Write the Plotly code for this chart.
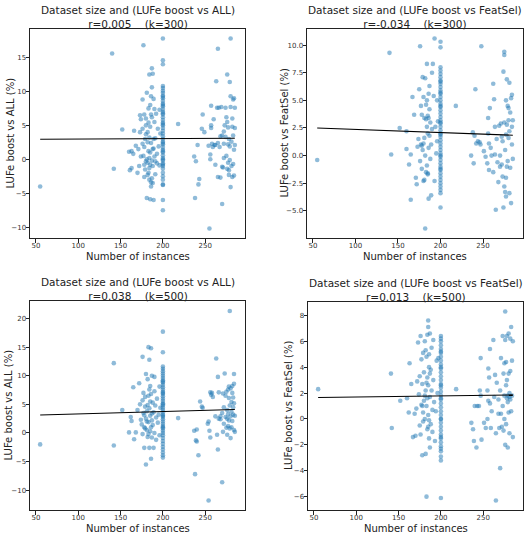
import numpy as np
import plotly.graph_objects as go

# ---------------- data ----------------
col200_p1 = [17.8,14.6,14.0,10.8,10.5,10.1,9.8,9.4,9.0,8.6,8.2,7.8,7.4,7.0,6.6,6.2,5.8,5.4,5.0,4.6,4.2,3.8,3.4,3.0,
             2.6,2.2,1.8,1.4,1.0,0.6,0.2,-0.2,-0.6,-1.0,-1.4,-2.0,-2.5,-3.0,-3.7,-6.0,-7.5,9.2,8.0,6.8,5.2,2.4,1.2,0.0,-0.8,-3.8]
p1_pts = [(55,-4.0),(140,15.6),(142,-1.4),(152,4.4),(160,1.1),(161,-1.6),(163,-1.3),(163,1.2),(165,0.8),(166,4.2),(168,2.0),
          (170,-2.0),(171,1.5),(173,4.0),(173,6.5),(174,5.9),(176,8.8),(177,16.8),(176,4.5),(177,0.5),(178,-2.6),(178,1.8),
          (179,-1.5),(180,3.7),(180,5.0),(181,9.8),(181,-5.7),(182,-0.5),(182,2.5),(183,7.5),(183,-2.0),(184,12.5),(184,0.2),
          (184,3.2),(185,1.0),(185,-0.8),(185,4.8),(186,9.3),(186,-4.0),(186,2.4),(187,13.4),(187,6.2),(187,-0.2),(188,12.6),
          (188,1.5),(188,-3.5),(189,-6.0),(189,3.0),(189,8.9),(190,5.5),(190,0.4),(191,-2.2),(191,3.1),(192,6.7),(193,0.8),
          (193,-0.6),(194,4.5),(195,1.9),(196,7.3),(196,-0.9),(197,3.8),(178,6.6),(180,6.0),(182,4.0),(183,1.2),(184,-1.3),
          (185,8.0),(186,6.6),(187,-2.8),(188,-1.0),(189,1.6),(190,7.4),(191,-0.3),(187,10.6),(180,-0.3),(179,3.0),(181,0.0),
          (183,5.4),(176,2.3),(174,0.4),(172,-1.0),(178,-0.8),(182,-2.3),(184,-3.0),(185,-5.9),(186,-3.4),(218,5.2),
          (237,0.4),(239,-0.3),(241,2.1),(243,-2.9),(242,-3.7),(238,-5.7),(246,4.5),(247,6.6),(249,4.0),(255,-10.2),(254,2.0),
          (256,0.7),(256,0.0),(257,4.6),(257,5.0),(257,7.9),(258,2.3),(260,5.9),(261,2.1),(263,11.5),(264,7.6),(265,16.3),
          (265,-2.6),(265,2.4),(266,7.6),(267,1.8),(268,3.4),(270,3.5),(270,-6.6),(271,-1.2),(272,0.2),(272,2.3),(273,5.0),
          (274,3.3),(274,7.6),(275,6.2),(275,0.5),(276,5.5),(276,12.5),(277,-0.5),(277,2.2),(277,4.7),(278,-1.6),(278,-2.3),
          (278,3.0),(279,11.4),(279,-0.1),(280,17.8),(280,9.3),(280,7.7),(280,-4.1),(281,2.6),(281,-1.0),(282,-2.6),(282,4.8),
          (282,6.0),(283,8.8),(283,3.5),(283,-0.7),(284,9.0),(284,1.4),(284,-2.4),(285,4.6),(285,2.1),(285,7.6),(270,-1.1),
          (268,-2.7),(262,2.1),(259,1.8),(262,-0.8),(272,4.1),(276,-1.4),(279,1.9),(269,7.7)]

col200_p2 = [10.3,9.8,8.0,7.7,7.4,7.1,6.8,6.5,6.2,5.9,5.6,5.3,5.0,4.7,4.4,4.1,3.8,3.5,3.2,2.9,2.6,2.3,2.0,1.7,1.4,1.1,
             0.8,0.5,0.2,-0.1,-0.4,-0.7,-1.0,-1.3,-1.6,-1.9,-2.2,-2.5,-2.8,-3.1,-3.4,-4.7,6.7,5.7,4.5,3.0,1.9,0.0,-1.2]
p2_pts = [(55,-0.4),(140,9.3),(142,0.1),(152,2.5),(160,0.6),(160,2.2),(163,-0.8),(165,0.1),(165,-4.0),(167,5.3),(169,3.7),
          (171,-2.0),(172,-2.6),(173,0.8),(174,1.5),(175,6.0),(176,9.9),(176,-0.5),(177,4.5),(177,1.0),(178,3.7),(178,-1.2),
          (179,7.1),(179,0.5),(180,5.3),(180,-2.3),(181,3.4),(181,1.6),(182,7.0),(182,-6.6),(182,0.0),(183,3.3),(183,-1.5),
          (184,8.3),(184,5.0),(184,-0.9),(185,3.6),(185,2.0),(185,-1.6),(186,5.6),(186,-3.9),(186,0.7),(187,4.2),(187,6.3),
          (188,-0.3),(188,3.0),(189,1.0),(189,-3.6),(190,7.5),(190,2.4),(191,8.3),(192,5.4),(193,10.6),(193,-2.3),(194,2.6),
          (195,0.2),(196,5.0),(196,1.3),(197,3.1),(180,1.1),(183,4.6),(185,-1.7),(187,1.8),(181,-2.2),(184,2.6),(178,0.9),
          (186,3.4),(218,4.5),
          (236,0.0),(238,2.1),(239,-0.7),(240,1.8),(241,6.0),(242,1.1),(244,1.3),(246,1.2),(247,1.0),(248,9.9),(251,0.4),
          (253,-0.1),(255,-0.7),(256,2.0),(256,3.4),(257,1.1),(257,-1.3),(258,4.3),(259,0.7),(260,0.0),(262,6.5),(262,-1.5),
          (263,5.1),(264,2.6),(264,0.1),(265,-4.9),(266,1.5),(267,-0.6),(268,-2.4),(269,2.7),(270,0.0),(270,-1.0),(271,2.9),
          (272,-0.8),(272,1.7),(273,-1.9),(274,-4.7),(274,7.6),(275,9.4),(275,9.1),(275,3.0),(275,-2.8),(276,0.5),(276,-3.3),
          (277,5.0),(277,1.9),(277,-3.7),(278,6.9),(278,2.8),(278,-1.0),(279,-0.5),(279,4.5),(280,4.3),(280,1.6),(281,6.6),
          (281,-3.4),(281,2.2),(282,3.9),(282,-1.1),(283,5.2),(283,-4.3),(284,5.5),(284,2.6),(284,1.0),(285,3.2),(285,-0.3),
          (280,3.2),(277,-2.0),(273,1.3)]

col200_p3 = [17.7,14.1,11.6,11.2,10.8,10.4,10.0,9.6,9.2,8.8,8.4,8.0,7.6,7.2,6.8,6.4,6.0,5.6,5.2,4.8,4.4,4.0,3.6,3.2,
             2.8,2.4,2.0,1.6,1.2,0.8,0.4,0.0,-0.4,-0.9,-1.4,-1.9,-2.4,-2.9,-3.4,-3.9,-4.3,9.0,7.0,5.0,3.0,1.0]
p3_pts = [(55,-2.0),(142,12.2),(142,-2.2),(152,4.0),(160,0.1),(162,2.8),(163,2.1),(165,8.0),(166,-1.1),(168,0.1),(170,4.0),
          (172,8.7),(173,5.0),(174,2.3),(175,1.5),(176,13.3),(176,5.7),(176,-0.2),(177,3.5),(177,7.0),(178,1.0),(178,-2.6),
          (179,4.6),(179,6.3),(180,-5.5),(180,10.3),(180,2.5),(181,0.5),(181,3.8),(182,9.4),(182,-0.7),(183,15.0),(183,6.5),
          (183,1.9),(184,12.8),(184,4.3),(184,-2.6),(185,8.2),(185,0.3),(185,3.0),(186,14.8),(186,-4.5),(186,6.8),(187,2.2),
          (187,10.0),(187,-0.8),(188,5.3),(188,1.4),(189,3.6),(189,-2.6),(190,9.8),(190,7.3),(190,0.0),(191,4.8),(192,2.7),
          (192,-1.2),(193,6.0),(194,1.8),(195,3.2),(196,8.1),(196,-0.4),(197,4.4),(181,2.0),(183,-0.2),(185,5.5),(187,3.4),
          (179,0.8),(184,7.6),(182,4.9),(178,3.1),(186,1.0),(218,2.6),
          (237,0.4),(239,-1.3),(240,-1.5),(240,0.6),(238,-7.2),(242,-3.9),(244,5.5),(246,4.6),(247,4.4),(253,1.6),
          (254,-11.8),(254,2.0),(255,0.4),(256,-0.8),(256,7.1),(257,6.7),(258,7.0),(259,6.3),(262,2.9),(263,13.0),(264,-0.3),
          (265,9.8),(265,-2.9),(266,7.1),(266,2.5),(268,2.9),(270,-8.6),(270,3.5),(271,0.2),(272,4.5),(272,1.6),(273,10.4),
          (274,6.5),(274,2.8),(275,7.2),(275,0.9),(276,4.0),(276,-0.3),(277,7.6),(277,1.2),(277,3.3),(278,8.1),(278,6.1),
          (278,2.2),(279,21.3),(279,4.8),(279,0.8),(280,7.8),(280,2.9),(280,-0.9),(281,5.4),(281,3.7),(281,1.0),(282,8.2),
          (282,7.0),(282,2.1),(283,6.2),(283,3.2),(284,10.3),(284,8.6),(284,5.2),(284,0.5),(285,3.0),(285,0.2),(283,4.5),
          (276,2.5),(271,6.9),(268,2.4)]

col200_p4 = [6.4,6.2,6.0,5.7,5.4,5.1,4.8,4.5,4.2,3.9,3.6,3.3,3.0,2.7,2.4,2.1,1.8,1.5,1.2,0.9,0.6,0.3,0.0,-0.3,-0.6,
             -0.9,-1.2,-1.5,-1.8,-2.1,-2.3,-2.5,-2.9,-3.2,-6.1,5.2,4.0,2.6,1.6,0.0,-1.4]
p4_pts = [(55,2.3),(141,3.5),(142,-0.7),(152,1.4),(160,1.6),(162,0.5),(163,4.3),(165,2.7),(167,-1.4),(169,0.4),(170,-1.3),
          (171,0.8),(172,2.9),(173,5.9),(174,1.9),(175,-0.5),(175,3.3),(176,6.4),(176,-1.2),(177,1.1),(177,4.6),(178,2.7),
          (178,-2.8),(179,5.1),(179,-0.2),(180,1.4),(180,3.6),(181,6.0),(181,0.0),(182,-2.7),(182,2.2),(185,7.6),(185,7.1),
          (183,-6.0),(183,4.8),(183,1.0),(184,6.5),(184,3.2),(184,-0.8),(185,2.6),(185,0.3),(186,4.0),(186,-1.5),(186,5.0),
          (187,6.6),(187,1.7),(187,-2.2),(188,3.8),(188,-0.4),(189,2.2),(189,5.5),(190,0.7),(190,-1.0),(191,6.1),(191,3.0),
          (192,1.3),(193,-1.7),(194,0.6),(195,4.5),(196,2.0),(197,4.7),(181,1.8),(183,2.8),(185,-0.6),(187,3.5),(179,0.5),
          (184,1.6),(182,5.3),(178,1.0),(186,-0.1),(218,2.3),
          (236,-0.3),(238,-0.8),(239,-1.7),(240,1.0),(242,-2.2),(243,1.0),(245,1.0),(246,2.2),(247,4.7),(247,1.8),(248,-1.6),
          (251,-0.3),(253,-0.7),(255,0.0),(255,2.2),(256,1.4),(256,3.9),(257,3.2),(258,5.4),(258,1.2),(259,-0.7),(260,0.6),
          (262,6.1),(263,1.7),(264,3.4),(265,-6.3),(265,-1.1),(266,2.8),(268,0.4),(268,1.5),(269,-0.7),(270,-3.8),(270,2.2),
          (271,4.7),(271,0.4),(272,-0.6),(273,6.4),(273,1.0),(274,3.5),(274,-0.9),(275,4.3),(275,1.8),(275,0.0),(276,8.3),
          (276,6.1),(276,-2.0),(277,4.4),(277,2.6),(277,-0.4),(278,6.4),(278,3.0),(278,1.6),(279,-2.2),(279,1.3),(280,6.6),
          (280,3.5),(280,0.5),(281,2.0),(281,-1.1),(282,6.2),(282,3.7),(282,1.5),(283,7.1),(283,0.6),(284,4.5),(284,1.8),
          (285,-1.4),(285,6.0),(279,1.8),(281,1.7)]

r_values = [0.005, -0.034, 0.038, 0.013]
k_values = [300, 300, 500, 500]
comparisons = ["ALL", "FeatSel", "ALL", "FeatSel"]
xlabel = "Number of instances"
x_ticks = [50, 100, 150, 200, 250]
y_ticks = [[-10, -5, 0, 5, 10, 15], [-5, -2.5, 0, 2.5, 5, 7.5, 10], [-10, -5, 0, 5, 10, 15, 20], [-6, -4, -2, 0, 2, 4, 6, 8]]
y_ranges = [[-11.6, 19.2], [-7.46, 11.46], [-13.46, 23.06], [-7.03, 9.03]]
x_range = [43, 297]

panels = [(p1_pts, col200_p1), (p2_pts, col200_p2), (p3_pts, col200_p3), (p4_pts, col200_p4)]

# ---------------- layout geometry ----------------
W, H = 528, 534
boxes = [(30, 245, 29, 238), (307, 523, 29, 238), (30, 245, 301, 510), (308, 523, 302, 510)]
ytitle_x = [10, 284, 8, 288]
FONT = "DejaVu Sans"
BLUE = "#1f77b4"
SP = "\u00a0" * 4

fig = go.Figure()
layout = dict(width=W, height=H, margin=dict(l=0, r=0, t=0, b=0), paper_bgcolor="white",
              plot_bgcolor="white", showlegend=False, font=dict(family=FONT, color="#262626"))
annotations = []
for i, ((pts, col), (x0, x1, y0, y1)) in enumerate(zip(panels, boxes)):
    n = i + 1
    xs = np.array([p[0] for p in pts] + [200] * len(col), dtype=float)
    ys = np.array([p[1] for p in pts] + list(col), dtype=float)
    xa = "x" if n == 1 else f"x{n}"
    ya = "y" if n == 1 else f"y{n}"
    fig.add_trace(go.Scatter(x=xs, y=ys, mode="markers", xaxis=xa, yaxis=ya,
                             marker=dict(size=4.6, color=BLUE, opacity=0.5, line=dict(width=0))))
    # least-squares line with the correlation r reported in the title
    slope = r_values[i] * ys.std() / xs.std()
    lx = np.array([xs.min(), xs.max()])
    ly = ys.mean() + slope * (lx - xs.mean())
    fig.add_trace(go.Scatter(x=lx, y=ly, mode="lines", xaxis=xa, yaxis=ya,
                             line=dict(color="black", width=1.1)))
    axkey = "xaxis" if n == 1 else f"xaxis{n}"
    aykey = "yaxis" if n == 1 else f"yaxis{n}"
    common = dict(showgrid=False, zeroline=False, showline=True, mirror=True, linecolor="#222",
                  linewidth=1, ticks="outside", ticklen=3.5, tickwidth=0.8, tickcolor="#222",
                  tickfont=dict(size=7, family=FONT, color="#333"))
    layout[axkey] = dict(domain=[x0 / W, x1 / W], anchor=ya, range=x_range, tickvals=x_ticks,
                         ticklabelstandoff=-3, **common)
    fmt = ".1f" if n == 2 else ""
    layout[aykey] = dict(domain=[1 - y1 / H, 1 - y0 / H], anchor=xa, range=y_ranges[i],
                         tickvals=y_ticks[i], tickformat=fmt, ticklabelstandoff=-2, **common)
    cx = (x0 + x1) / 2 / W
    title = (f"Dataset size and (LUFe boost vs {comparisons[i]})<br>"
             f"r={r_values[i]:.3f}{SP}(k={k_values[i]})")
    annotations.append(dict(text=title, x=cx, y=1 - y0 / H, xref="paper", yref="paper",
                            xanchor="center", yanchor="bottom", showarrow=False, yshift=-3,
                            font=dict(size=10.5, family=FONT, color="#222")))
    annotations.append(dict(text=xlabel, x=cx, y=1 - (y1 + 18) / H, xref="paper", yref="paper",
                            xanchor="center", yanchor="middle", showarrow=False,
                            font=dict(size=10, family=FONT, color="#222")))
    annotations.append(dict(text=f"LUFe boost vs {comparisons[i]} (%)", x=ytitle_x[i] / W,
                            y=1 - (y0 + y1) / 2 / H, xref="paper",
                            yref="paper", xanchor="center", yanchor="middle", showarrow=False, textangle=-90,
                            font=dict(size=10, family=FONT, color="#222")))
layout["annotations"] = annotations
fig.update_layout(**layout)
fig.write_html("out.html")
